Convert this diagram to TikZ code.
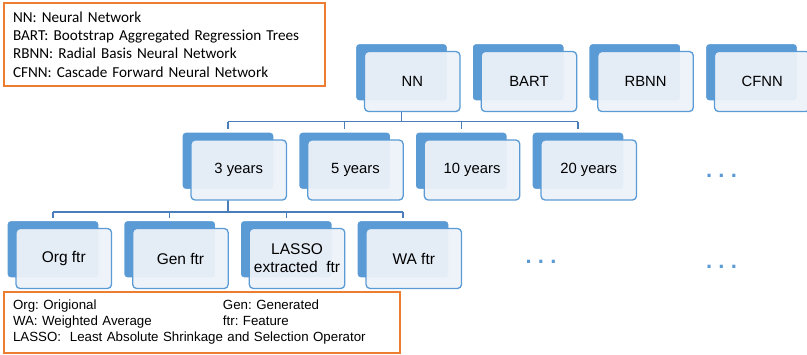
\documentclass[tikz,border=0pt]{standalone}
\usepackage{fontspec}
\setmainfont{Liberation Sans}
\newfontfamily\keyfont{Carlito}
\usetikzlibrary{shadows}
\frenchspacing

\definecolor{boxblue}{HTML}{5B9BD5}
\definecolor{boxpale}{HTML}{EDF2F9}
\definecolor{linkblue}{HTML}{4A7EBB}
\definecolor{keyorange}{HTML}{ED7D31}

\tikzset{
  backbox/.style={anchor=north west, fill=boxblue, draw=white, line width=2.2pt,
    rounded corners=4pt, minimum width=93pt, minimum height=58.5pt,
    inner sep=0pt, outer sep=0pt,
    drop shadow={opacity=0.18, shadow xshift=0.6pt, shadow yshift=-0.6pt}},
  frontbox/.style={anchor=north west, fill=boxpale, fill opacity=0.94, text opacity=1,
    draw=boxblue, line width=1.3pt, rounded corners=4pt,
    minimum width=95.5pt, minimum height=60pt, inner sep=0pt, outer sep=0pt,
    align=center, font=\fontsize{14.8}{18}\selectfont},
  leafbox/.style={frontbox, font=\fontsize{15.5}{18}\selectfont},
  conn/.style={draw=linkblue, line width=1.3pt},
  tick/.style={conn, shorten >=2.5pt},
  moredots/.style={anchor=base, inner sep=0pt, text=boxblue,
    font=\bfseries\fontsize{22}{22}\selectfont},
  keybox/.style={anchor=north west, draw=keyorange, line width=2pt,
    inner xsep=9pt, inner ysep=0pt, outer sep=0pt, align=left},
}

\begin{document}
\begin{tikzpicture}[x=1pt, y=-1pt]
\useasboundingbox (0,0) rectangle (807,354);

% bus levels of the tree
\coordinate (busA) at (0,121.5);
\coordinate (busB) at (0,212);

% ---- models ----
\node[backbox]  (nnb)   at (355,43) {};
\node[backbox]  (bartb) at (471.7,43) {};
\node[backbox]  (rbnnb) at (588.3,43) {};
\node[backbox]  (cfnnb) at (705,43) {};

% ---- horizons ----
\node[backbox]  (y3b)  at (181.5,131.5) {};
\node[backbox]  (y5b)  at (298.2,131.5) {};
\node[backbox]  (y10b) at (414.8,131.5) {};
\node[backbox]  (y20b) at (531.5,131.5) {};

% ---- feature sets ----
\node[backbox]  (orgb)   at (6.5,220) {};
\node[backbox]  (genb)   at (123.2,220) {};
\node[backbox]  (lassob) at (239.8,220) {};
\node[backbox]  (wab)    at (356.5,220) {};

% connectors (drawn below the front cards)
\draw[conn] (nnb.center |- 0,111.5) -- (nnb.center |- busA);
\draw[conn] (y3b.north |- busA) -- (y20b.north |- busA);
\draw[tick] (y3b.north |- busA) -- (y3b.north);
\draw[tick] (y5b.north |- busA) -- (y5b.north);
\draw[tick] (y10b.north |- busA) -- (y10b.north);
\draw[tick] (y20b.north |- busA) -- (y20b.north);

\draw[conn] (y3b.center |- 0,200) -- (y3b.center |- busB);
\draw[conn] (orgb.north |- busB) -- (wab.north |- busB);
\draw[tick] (orgb.north |- busB) -- (orgb.north);
\draw[tick] (genb.north |- busB) -- (genb.north);
\draw[tick] (lassob.north |- busB) -- (lassob.north);
\draw[tick] (wab.north |- busB) -- (wab.north);

% front cards
\node[frontbox] (nn)   at (364.5,51.5) {NN};
\node[frontbox] (bart) at (481.2,51.5) {BART};
\node[frontbox] (rbnn) at (597.8,51.5) {RBNN};
\node[frontbox] (cfnn) at (714.5,51.5) {CFNN};

\node[frontbox] (y3)  at (191,140) {3 years};
\node[frontbox] (y5)  at (307.7,140) {5 years};
\node[frontbox] (y10) at (424.3,140) {10 years};
\node[frontbox] (y20) at (541,140) {20 years};

\node[leafbox] (org)   at (16,228.5) {Org ftr};
\node[leafbox] (gen)   at (132.7,228.5) {Gen ftr};
\node[leafbox] (lasso) at (249.3,228.5) {LASSO\\extracted\ \ ftr};
\node[leafbox] (wa)    at (366,228.5) {WA ftr};

% continuation marks
\node[moredots] (moreYears)  at (721.5,177.5) {.\hspace{6.2pt}.\hspace{6.2pt}.};
\node[moredots] (moreFeatA)  at (541,263.2) {.\hspace{6.2pt}.\hspace{6.2pt}.};
\node[moredots] (moreFeatB)  at (721.5,268.8) {.\hspace{6.2pt}.\hspace{6.2pt}.};

% abbreviation keys
\node[keybox, minimum width=321pt, minimum height=83pt, text width=303pt,
      font=\keyfont\fontsize{15.2}{18.4}\selectfont] (keyModels) at (4,3)
  {NN: Neural Network\\
   BART: Bootstrap Aggregated Regression Trees\\
   RBNN: Radial Basis Neural Network\\
   CFNN: Cascade Forward Neural Network};

\node[keybox, minimum width=396pt, minimum height=61pt, text width=378pt,
      font=\fontsize{13.3}{16}\selectfont] (keyFeatures) at (4,292)
  {\makebox[210pt][l]{Org: Origional}Gen: Generated\\
   \makebox[210pt][l]{WA: Weighted Average}ftr: Feature\\
   LASSO:\ \ Least Absolute Shrinkage and Selection Operator};
\end{tikzpicture}
\end{document}
